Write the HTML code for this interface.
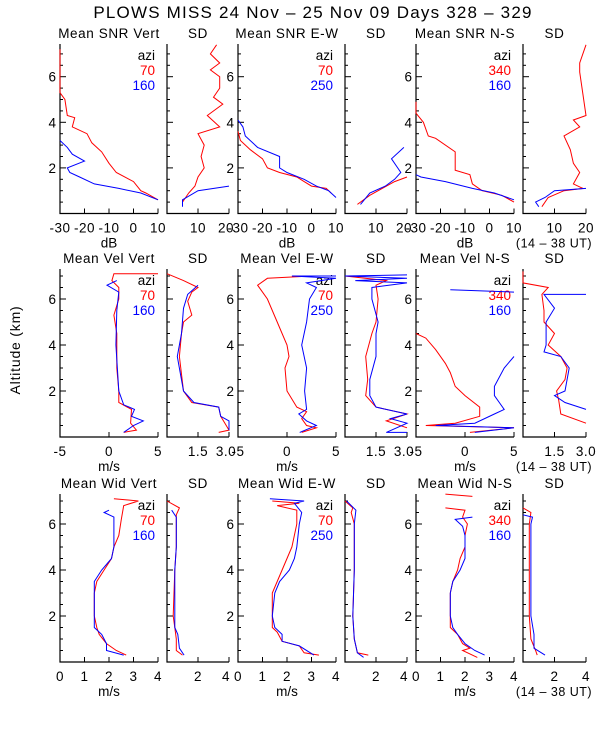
<!DOCTYPE html>
<html><head><meta charset="utf-8"><style>
body{margin:0;background:#fff}
svg{display:block;font-family:"Liberation Sans",sans-serif}
</style></head><body>
<svg id="c" width="600" height="750"></svg>
<script>
// ---- data: [altitude km, value] pairs, null breaks line ----
const snrVert70=[[7.2,-30],[5.3,-30],[5.0,-28],[4.3,-27],[4.2,-24],[3.8,-25],[3.5,-19],[3.1,-17],[2.7,-13],[2.2,-10],[1.8,-7],[1.4,0],[1.0,3],[0.9,5],[0.6,10]];
const snrVert160=[[3.2,-30],[2.9,-27],[2.6,-25],[2.3,-20],[2.0,-27],[1.8,-26],[1.6,-22],[1.3,-16],[1.1,-6],[0.9,3],[0.6,10]];
const snrVertSd70=[[7.4,16],[7.0,14],[6.6,17],[6.3,14],[6.0,17],[5.5,17],[5.1,15],[4.8,18],[4.3,13],[3.8,17],[3.5,10],[3.0,12],[2.5,11],[2.0,12],[1.6,10],[1.2,9],[0.9,7],[0.5,5]];
const snrVertSd160=[[1.2,20],[1.0,10],[0.6,5],[0.3,5]];
const snrEW70=[[3.6,-30],[3.2,-29],[2.8,-25],[2.4,-20],[2.0,-18],[1.8,-13],[1.6,-6],[1.4,-3],[1.2,0],[1.1,6],[0.9,8]];
const snrEW250=[[4.1,-30],[3.8,-28],[3.4,-27],[2.9,-22],[2.5,-13],[2.0,-13],[1.8,-10],[1.5,-3],[1.2,2],[1.0,7],[0.7,10]];
const snrEWSd70=[[1.6,20],[1.4,16],[1.1,12],[0.8,8],[0.4,4]];
const snrEWSd250=[[2.9,19],[2.4,15],[2.0,17],[1.8,18],[1.5,16],[1.2,13],[0.9,8],[0.4,5]];
const snrNS340=[[4.9,-30],[4.4,-30],[4.0,-27],[3.4,-25],[3.3,-22],[2.7,-14],[2.3,-14],[1.9,-14],[1.7,-8],[1.3,-7],[1.0,-3],[0.8,5],[0.5,10]];
const snrNS160=[[1.7,-30],[1.6,-28],[1.4,-18],[1.1,-7],[0.9,2],[0.6,10]];
const snrNSSd340=[[7.4,20],[6.6,18],[6.2,18],[4.3,20],[4.1,16],[3.8,18],[3.4,13],[2.8,15],[2.2,16],[1.8,18],[1.3,16],[1.1,19],[1.0,13],[0.7,8],[0.3,6]];
const snrNSSd160=[[1.1,20],[1.0,10],[0.7,7],[0.5,4],[0.3,5]];
const velVert70=[[7.1,5],[7.1,0.5],[6.8,0.3],[6.5,1],[6.0,1],[5.3,0.5],[4.5,0.8],[3.0,0.8],[2.0,1],[1.5,1],[1.2,2.3],[0.6,2.2],[0.3,2.8],[0.2,1.5]];
const velVert160=[[6.8,0.8],[6.6,-0.2],[6.3,1.0],[5.5,0.8],[4.0,0.7],[2.0,1.0],[1.4,1.5],[1.2,2.6],[0.9,2.3],[0.7,3.5],[0.5,2.5],[0.2,1.5]];
const velVertSd70=[[7.1,0],[6.8,0.8],[6.5,1.5],[6.3,1.2],[5.9,1.0],[5.3,1.2],[5.0,0.8],[4.5,0.7],[3.5,0.6],[2.0,0.8],[1.5,1.2],[1.3,2.5],[0.9,2.6],[0.6,2.8],[0.3,3.0],[0.2,2.5]];
const velVertSd160=[[6.6,1.5],[6.2,1.0],[5.6,0.8],[4.5,0.7],[3.5,0.5],[2.0,0.8],[1.5,1.3],[1.3,2.5],[0.9,2.6],[0.7,3.0],[0.3,3.0]];
const velEW70=[[7.0,2.5],[6.9,-2],[6.6,-3],[6.3,-2.5],[6.0,-2],[5.0,-1],[4.0,0],[3.5,0.2],[3.0,-0.2],[2.0,0],[1.3,1],[1.1,2],[0.8,1.5],[0.5,2],[0.4,3],[0.2,1.5]];
const velEW250=[[7.0,5],[7.0,0.5],[6.9,5],[6.7,2],[6.5,3],[6.0,2.3],[5.0,2],[4.0,1.5],[3.0,2],[2.0,1.8],[1.2,2],[1.0,1.2],[0.7,2],[0.5,3],[0.2,1.3]];
const velEWSd70=[[7.0,0],[6.8,2],[6.6,1.5],[6.0,1.6],[5.0,1.5],[4.5,1.3],[3.5,1.0],[2.5,1.1],[1.8,1.0],[1.3,1.5],[1.0,3.0],[0.7,2.0],[0.4,3.0]];
const velEWSd250=[[7.05,3.0],[7.0,0],[6.9,3],[6.8,0.5],[6.7,3],[6.5,1.3],[6.0,1.3],[5.0,1.6],[4.5,1.5],[3.5,1.5],[2.5,1.2],[1.8,1.2],[1.3,1.5],[1.0,3.0],[0.8,2.2],[0.6,3.0],[0.2,2.0],[0.2,3.0]];
const velNS340=[[4.5,-5],[4.3,-4],[3.8,-3],[3.2,-2],[2.8,-1.5],[2.2,-1],[1.8,0],[1.3,1.5],[0.9,1.5],[0.6,-1],[0.5,-4],[0.4,5],[0.2,0.5]];
const velNS160=[[6.4,-1.5],[6.3,5],null,[3.5,5],[3.0,4],[2.2,3],[1.8,3],[1.5,3.5],[1.2,4],[1.0,3],[0.6,1],[0.5,-3],[0.4,5],[0.2,1]];
const velNSSd340=[[7.2,0],[6.7,0],[6.5,1.2],[6.2,0.9],[5.5,1.0],[5.0,1.0],[4.5,1.5],[4.0,1.2],[3.5,1.8],[3.0,2.1],[2.5,2.0],[2.0,1.6],[1.6,1.7],[1.0,1.8],[0.6,3.0]];
const velNSSd160=[[6.2,3.0],[6.2,1.0],[5.6,1.5],[5.0,1.1],[4.0,1.1],[3.7,1.0],[3.5,1.8],[3.0,2.2],[2.5,2.1],[2.0,2.0],[1.8,1.5],[1.5,2.0],[1.2,3.0]];
const widVert70=[[7.1,2.2],[7.0,3.2],[6.8,2.6],[6.2,2.5],[5.5,2.4],[5.0,2.2],[4.5,2.1],[4.0,1.8],[3.5,1.5],[3.0,1.4],[2.0,1.4],[1.5,1.5],[1.2,1.6],[0.8,1.9],[0.5,2.3],[0.3,2.7]];
const widVert160=[[6.6,2.0],[6.5,1.8],[6.3,2.2],[6.0,2.2],[5.5,2.2],[5.0,2.2],[4.5,2.1],[4.0,1.7],[3.5,1.4],[3.0,1.4],[2.0,1.4],[1.5,1.4],[1.2,1.7],[0.8,1.9],[0.5,1.9],[0.3,2.6]];
const widVertSd70=[[7.0,0],[6.7,0.8],[6.4,0.6],[5.0,0.6],[4.0,0.5],[2.0,0.4],[1.5,0.5],[1.0,0.6],[0.5,0.6],[0.3,1.0]];
const widVertSd160=[[6.6,0.3],[6.3,0.6],[5.0,0.6],[4.0,0.5],[2.0,0.5],[1.5,0.5],[1.2,0.7],[0.6,0.8],[0.3,1.1]];
const widEW70=[[7.0,1.4],[6.9,2.5],[6.8,1.6],[6.6,2.4],[6.0,2.4],[5.0,2.2],[4.5,2.0],[4.0,1.8],[3.5,1.6],[3.0,1.4],[2.0,1.4],[1.5,1.4],[1.3,1.6],[0.9,1.8],[0.7,2.5],[0.4,2.7],[0.3,3.3]];
const widEW250=[[7.1,1.3],[7.0,2.7],[6.9,2.3],[6.5,2.6],[6.0,2.5],[5.0,2.4],[4.5,2.3],[4.0,2.1],[3.5,1.7],[3.0,1.5],[2.0,1.4],[1.5,1.5],[1.2,1.8],[0.9,1.8],[0.7,2.5],[0.3,3.1]];
const widEWSd70=[[7.0,0],[6.7,0.5],[6.5,0.4],[6.0,0.6],[4.0,0.6],[2.0,0.5],[1.0,0.6],[0.4,0.8],[0.3,1.5]];
const widEWSd250=[[7.0,0.1],[6.6,0.7],[6.0,0.6],[4.0,0.6],[2.0,0.5],[1.0,0.6],[0.4,0.8],[0.2,1.2]];
const widNS340=[[7.3,1.2],[7.2,2.3],null,[6.7,1.2],[6.6,2.0],[6.3,1.9],[6.0,2.1],[5.5,2.0],[5.0,2.0],[4.5,1.8],[4.0,1.7],[3.5,1.5],[3.0,1.4],[2.0,1.4],[1.5,1.4],[1.2,1.7],[0.8,1.9],[0.6,2.2],[0.5,1.9],[0.2,2.5]];
const widNS160=[[6.3,2.3],[6.2,1.6],[5.9,1.9],[5.5,2.0],[5.0,2.0],[4.5,2.0],[4.0,1.8],[3.5,1.5],[3.0,1.4],[2.0,1.4],[1.5,1.5],[1.2,1.7],[0.8,2.0],[0.5,2.4],[0.3,2.8]];
const widNSSd340=[[6.7,0],[6.5,0.5],[6.0,0.4],[5.0,0.4],[2.0,0.4],[1.0,0.5],[0.5,0.8],[0.3,0.9]];
const widNSSd160=[[6.4,0],[6.3,0.6],[6.0,0.5],[5.0,0.5],[2.0,0.5],[1.2,0.7],[0.6,0.7],[0.3,1.4]];

const svg=document.getElementById('c');
const NS='http://www.w3.org/2000/svg';
function mk(t,a,txt){const e=document.createElementNS(NS,t);for(const k in a)e.setAttribute(k,a[k]);if(txt!==undefined)e.textContent=txt;svg.appendChild(e);return e;}

const cols=[[60,158],[167,229],[238,336],[345,407],[416,514],[523,586]];
const rows=[{b:213.5,t:44,k:22.8},{b:437,t:269,k:23},{b:662,t:494,k:23}];
const rowDef=[
 {name:'SNR',mr:[-30,10],mt:[-30,-20,-10,0,10],sr:[0,20],st:[10,20],unit:'dB'},
 {name:'Vel',mr:[-5,5],mt:[-5,0,5],sr:[0,3],st:[1.5,3.0],unit:'m/s'},
 {name:'Wid',mr:[0,4],mt:[0,1,2,3,4],sr:[0,4],st:[2,4],unit:'m/s'}];
const dirs=['Vert','E-W','N-S'];
const azis=[['70','160'],['70','250'],['340','160']];
const series=[
 [[snrVert70,snrVert160],[snrVertSd70,snrVertSd160],[snrEW70,snrEW250],[snrEWSd70,snrEWSd250],[snrNS340,snrNS160],[snrNSSd340,snrNSSd160]],
 [[velVert70,velVert160],[velVertSd70,velVertSd160],[velEW70,velEW250],[velEWSd70,velEWSd250],[velNS340,velNS160],[velNSSd340,velNSSd160]],
 [[widVert70,widVert160],[widVertSd70,widVertSd160],[widEW70,widEW250],[widEWSd70,widEWSd250],[widNS340,widNS160],[widNSSd340,widNSSd160]]];

const t=mk('text',{x:313,y:18,'text-anchor':'middle','font-size':17,'letter-spacing':'1.2'},'PLOWS MISS  24 Nov – 25 Nov 09 Days 328 – 329');


const yl=mk('text',{x:0,y:0,transform:'translate(20,350) rotate(-90)','text-anchor':'middle','font-size':14,'letter-spacing':'0.8'},'Altitude (km)');



rows.forEach((r,ri)=>{
 const d=rowDef[ri];
 const Y=a=>r.b-a*r.k;
 cols.forEach((c,ci)=>{
  const isSd=ci%2===1;
  const rng=isSd?d.sr:d.mr;
  const X=v=>c[0]+(v-rng[0])/(rng[1]-rng[0])*(c[1]-c[0]);
  const title=isSd?'SD':'Mean '+d.name+' '+dirs[ci>>1];
  const te=mk('text',{x:(c[0]+c[1])/2,y:r.t-6,'text-anchor':'middle','font-size':13.5,'letter-spacing':'0.6'},title);
  
  
  const ax=mk('path',{d:`M${c[0]},${r.t}V${r.b}H${c[1]}`,stroke:'#000','stroke-width':1.2,fill:'none'});
  
  
  for(let a=0.5;a<=7.4;a+=0.5){const maj=Math.abs(a%2)<0.01;mk('line',{x1:c[0],x2:c[0]+(maj?6:3),y1:Y(a),y2:Y(a),stroke:'#000'});
   if(maj&&!isSd){const yt=mk('text',{x:c[0]-4,y:Y(a)+5,'text-anchor':'end','font-size':13.5},String(a));}}
  const ticks=isSd?d.st:d.mt;
  ticks.forEach((v,i)=>{mk('line',{x1:X(v),x2:X(v),y1:r.b,y2:r.b-5,stroke:'#000'});
   const last=isSd&&i===ticks.length-1&&ci<5;
   const xt=mk('text',{x:X(v)-(last?3:0),y:r.b+19,'text-anchor':'middle','font-size':13.5,'letter-spacing':'0.5'},isSd&&ri===1?v.toFixed(1):String(v));
   
   });
  if(!isSd){const u=mk('text',{x:(c[0]+c[1])/2,y:r.b+34,'text-anchor':'middle','font-size':13.5},d.unit);
   
   const lg=[['azi','#000'],[azis[ci>>1][0],'#f00'],[azis[ci>>1][1],'#00f']];
   lg.forEach((l,i)=>{const e=mk('text',{x:c[1]-3,y:r.t+16+i*15,'text-anchor':'end','font-size':13.5,fill:l[1]},l[0]);
    });}
  series[ri][ci].forEach((s,si)=>{
   let p='',pen=false;
   s.forEach(pt=>{if(!pt){pen=false;return;}p+=(pen?'L':'M')+X(pt[1]).toFixed(1)+','+Y(pt[0]).toFixed(1);pen=true;});
   const e=mk('path',{d:p,stroke:si?'#00f':'#f00','stroke-width':1,fill:'none'});
   
   });
 });
 const ut=mk('text',{x:554,y:r.b+34,'text-anchor':'middle','font-size':12.5,'letter-spacing':'0.5'},'(14 – 38 UT)');
 
 
});
</script>
</body></html>
